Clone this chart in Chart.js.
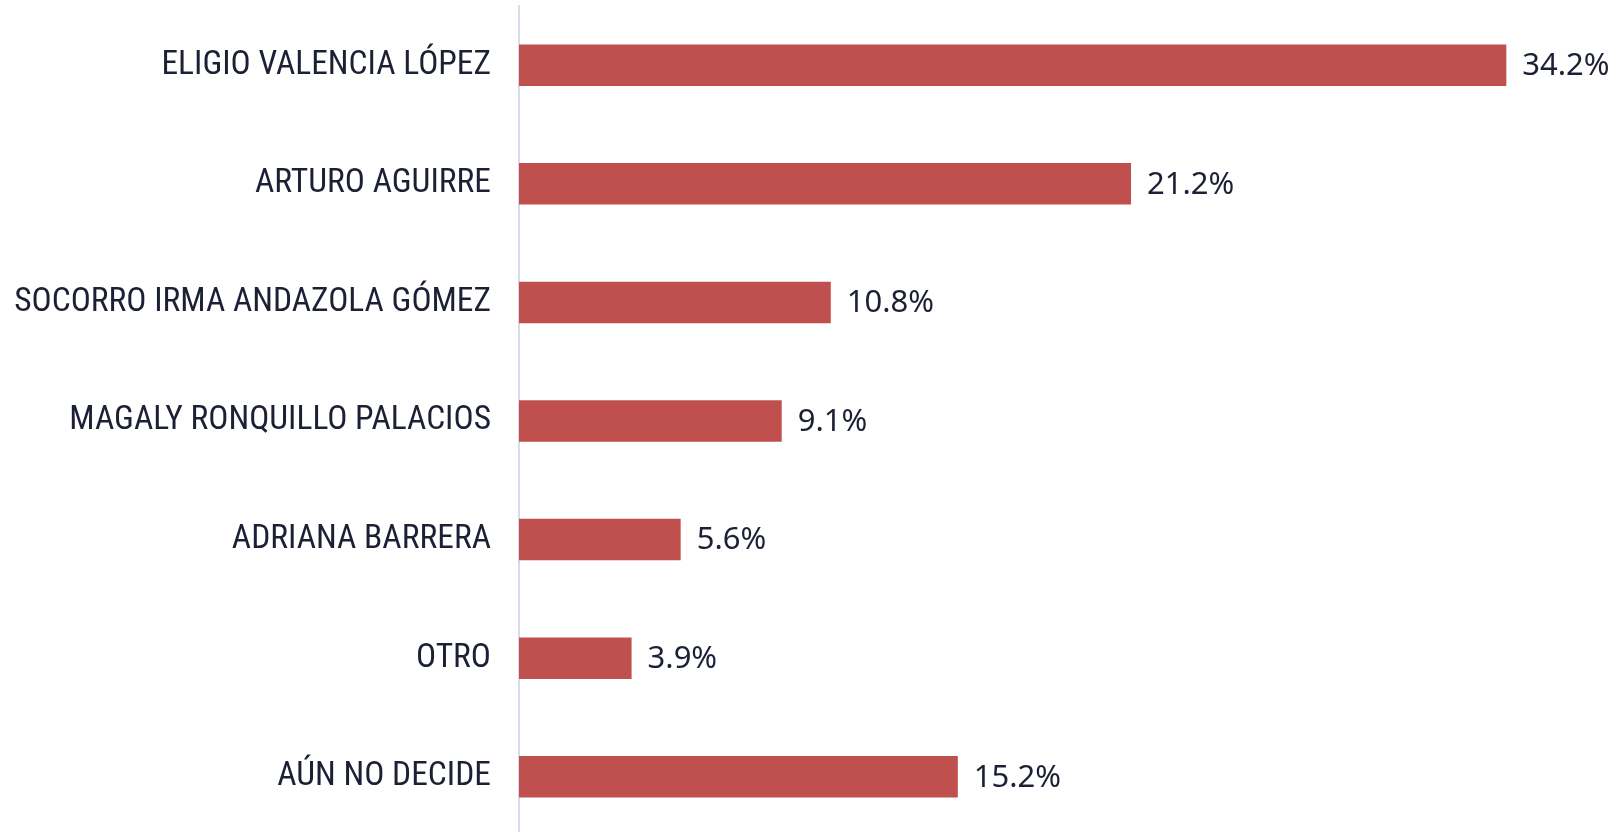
<!DOCTYPE html>
<html>
<head>
<meta charset="utf-8">
<script src="https://cdn.jsdelivr.net/npm/chart.js@4.4.1/dist/chart.umd.min.js"></script>
<style>
  html, body { margin: 0; padding: 0; background: #ffffff; overflow: hidden; }
  #wrap { width: 1615px; height: 836px; position: relative; }
</style>
</head>
<body>
<div id="wrap"><canvas id="graficoVotos"></canvas></div>
<script>
const candidatos = [
  'ELIGIO VALENCIA LÓPEZ',
  'ARTURO AGUIRRE',
  'SOCORRO IRMA ANDAZOLA GÓMEZ',
  'MAGALY RONQUILLO PALACIOS',
  'ADRIANA BARRERA',
  'OTRO',
  'AÚN NO DECIDE'
];
const porcentajes = [34.2, 21.2, 10.8, 9.1, 5.6, 3.9, 15.2];

const colorBarra = '#C0504D';
const colorTexto = '#1C2035';

// etiquetas de valor al final de cada barra
const etiquetasValor = {
  id: 'etiquetasValor',
  afterDatasetsDraw(chart) {
    const ctx = chart.ctx;
    const meta = chart.getDatasetMeta(0);
    ctx.save();
    ctx.font = '31px "Noto Sans", sans-serif';
    ctx.fillStyle = colorTexto;
    ctx.textAlign = 'left';
    ctx.textBaseline = 'middle';
    meta.data.forEach((bar, i) => {
      ctx.fillText(porcentajes[i].toFixed(1) + '%', bar.x + 16, bar.y + 1);
    });
    ctx.restore();
  }
};

new Chart(document.getElementById('graficoVotos'), {
  type: 'bar',
  data: {
    labels: candidatos,
    datasets: [{
      data: porcentajes,
      backgroundColor: colorBarra,
      borderWidth: 0,
      categoryPercentage: 1,
      barPercentage: 0.35
    }]
  },
  options: {
    indexAxis: 'y',
    responsive: true,
    maintainAspectRatio: false,
    animation: false,
    layout: { padding: { top: 6, right: 100, bottom: 0, left: 0 } },
    plugins: {
      legend: { display: false },
      tooltip: { enabled: false }
    },
    scales: {
      x: {
        display: false,
        min: 0,
        max: 34.5
      },
      y: {
        afterFit(scale) {
          scale.width = 519;
          scale.paddingTop = 0;
          scale.paddingBottom = 0;
        },
        grid: { display: false, drawTicks: false },
        border: { display: true, color: '#D9DAEC', width: 2 },
        ticks: {
          padding: 28,
          color: colorTexto,
          font: { family: '"Liberation Sans Narrow", "Roboto Condensed", Roboto, sans-serif', size: 33.5 }
        }
      }
    }
  },
  plugins: [etiquetasValor]
});
</script>
</body>
</html>
